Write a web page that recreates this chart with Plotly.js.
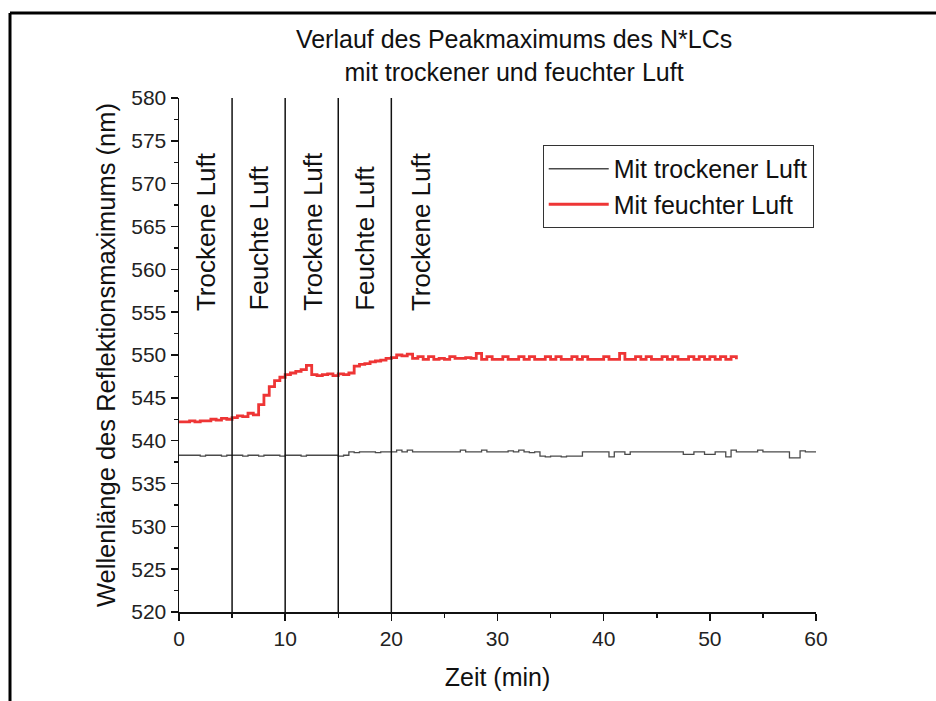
<!DOCTYPE html>
<html>
<head>
<meta charset="utf-8">
<script src="https://cdn.plot.ly/plotly-3.0.1.min.js"></script>
<style>html,body{margin:0;padding:0;background:#fff;}#chart{width:936px;height:701px;}</style>
</head>
<body>
<div id="chart"></div>
<script>
// ---- data ----
const timeFeucht = [];
for (let i = 0; i <= 105; i++) timeFeucht.push(i * 0.5);
const feuchtValues = [
  542.2,542.2,542.3,542.2,542.3,542.3,542.5,542.4,542.6,542.5,
  542.7,542.9,542.8,543.2,543.0,544.2,545.3,546.3,547.0,547.4,
  547.7,547.9,548.1,548.3,548.8,547.7,547.6,547.7,547.8,547.6,
  547.8,547.7,547.9,548.7,548.9,549.0,549.2,549.3,549.4,549.6,
  549.7,550.0,549.9,550.1,549.6,549.8,549.5,549.8,549.5,549.6,
  549.5,549.8,549.6,549.6,549.7,549.6,550.2,549.5,549.8,549.5,
  549.5,549.8,549.5,549.5,549.8,549.5,549.8,549.5,549.5,549.8,
  549.5,549.8,549.5,549.5,549.8,549.5,549.8,549.5,549.5,549.5,
  549.8,549.5,549.5,550.2,549.5,549.5,549.8,549.5,549.8,549.5,
  549.5,549.8,549.5,549.8,549.5,549.5,549.8,549.5,549.8,549.5,
  549.8,549.5,549.8,549.5,549.8,549.5
];
const timeTrocken = [];
for (let i = 0; i <= 120; i++) timeTrocken.push(i * 0.5);
const trockenValues = [
  538.3,538.3,538.3,538.3,538.2,538.3,538.3,538.3,538.2,538.3,
  538.3,538.3,538.2,538.3,538.3,538.2,538.3,538.3,538.3,538.2,
  538.3,538.3,538.3,538.2,538.3,538.3,538.3,538.3,538.3,538.3,
  538.2,538.3,538.7,538.6,538.7,538.7,538.7,538.6,538.7,538.7,
  538.7,538.9,538.7,538.9,538.7,538.7,538.7,538.7,538.7,538.7,
  538.7,538.7,538.7,538.9,538.7,538.7,538.7,538.9,538.7,538.7,
  538.7,538.7,538.8,538.7,538.9,538.7,538.6,538.7,538.2,538.1,
  538.2,538.2,538.1,538.2,538.2,538.2,538.7,538.7,538.7,538.7,
  538.7,538.1,538.7,538.7,538.4,538.7,538.7,538.7,538.7,538.7,
  538.7,538.7,538.7,538.7,538.7,538.4,538.4,538.7,538.7,538.4,
  538.4,538.7,538.7,538.1,538.9,538.7,538.7,538.7,538.7,538.9,
  538.7,538.7,538.7,538.7,538.7,538.0,538.0,538.8,538.7,538.7,
  538.7
];
const phaseBorders = [5, 10, 15, 20];
const phaseLabels = ["Trockene Luft","Feuchte Luft","Trockene Luft","Feuchte Luft","Trockene Luft"];
const phaseLabelX = [2.5, 7.45, 12.55, 17.45, 22.75];
const xTicks = [0, 10, 20, 30, 40, 50, 60];

const FONT = "Liberation Sans, Arial, sans-serif";

const traces = [
  {x: timeTrocken, y: trockenValues, name: "Mit trockener Luft", mode: "lines",
   line: {color: "#4a4a4a", width: 1.3, shape: "hv"}},
  {x: timeFeucht, y: feuchtValues, name: "Mit feuchter Luft", mode: "lines",
   line: {color: "#ee3535", width: 2.8, shape: "hv"}}
];

const shapes = phaseBorders.map(v => ({
  type: "line", xref: "x", yref: "paper", x0: v, x1: v, y0: 0, y1: 1,
  line: {color: "#111", width: 1.5}
}));
// outer frame (top + left)
shapes.push({type: "line", xref: "paper", yref: "paper", x0: -0.2653, x1: 1.2, y0: 1.1654, y1: 1.1654, line: {color: "#000", width: 3}});
shapes.push({type: "line", xref: "paper", yref: "paper", x0: -0.2653, x1: -0.2653, y0: 1.1654, y1: -0.2, line: {color: "#000", width: 3}});

const annotations = phaseLabels.map((t, i) => ({
  text: t, x: phaseLabelX[i], y: 554.9, xref: "x", yref: "y",
  textangle: -90, showarrow: false, xanchor: "center", yanchor: "bottom",
  font: {family: FONT, size: 26, color: "#111"}
}));

const layout = {
  width: 936, height: 701,
  margin: {l: 179, r: 120, t: 98, b: 89},
  paper_bgcolor: "#fff", plot_bgcolor: "#fff",
  font: {family: FONT, color: "#111"},
  title: {text: "Verlauf des Peakmaximums des N*LCs<br>mit trockener und feuchter Luft",
          font: {family: FONT, size: 25, color: "#111"},
          xref: "paper", x: 0.526, xanchor: "center",
          yref: "container", y: 0.931, yanchor: "top"},
  xaxis: {range: [0, 60], tickvals: xTicks, ticks: "outside", ticklen: 7, tickwidth: 1.5,
          showline: true, linecolor: "#111", linewidth: 1.5, showgrid: false, zeroline: false,
          tickcolor: "#111", tickfont: {family: FONT, size: 21, color: "#222"},
          minor: {dtick: 5, ticks: "outside", ticklen: 4, tickwidth: 1.5, tickcolor: "#111", showgrid: false},
          title: {text: "Zeit (min)", font: {family: FONT, size: 25, color: "#111"}, standoff: 20}},
  yaxis: {range: [520, 580], dtick: 5, ticks: "outside", ticklen: 7, tickwidth: 1.5,
          showline: true, linecolor: "#111", linewidth: 1.5, showgrid: false, zeroline: false,
          tickcolor: "#111", tickfont: {family: FONT, size: 21, color: "#222"},
          minor: {dtick: 2.5, ticks: "outside", ticklen: 4, tickwidth: 1.5, tickcolor: "#111", showgrid: false},
          title: {text: "Wellenlänge des Reflektionsmaximums (nm)", font: {family: FONT, size: 25.5, color: "#111"}, standoff: 8}},
  legend: {x: 0.571, y: 0.9086, xanchor: "left", yanchor: "top", bgcolor: "#fff",
           bordercolor: "#333", borderwidth: 1, itemwidth: 60,
           font: {family: FONT, size: 25, color: "#111"}, tracegroupgap: 0},
  shapes: shapes,
  annotations: annotations,
  showlegend: true
};

Plotly.newPlot("chart", traces, layout, {staticPlot: true, displayModeBar: false});
</script>
</body>
</html>
